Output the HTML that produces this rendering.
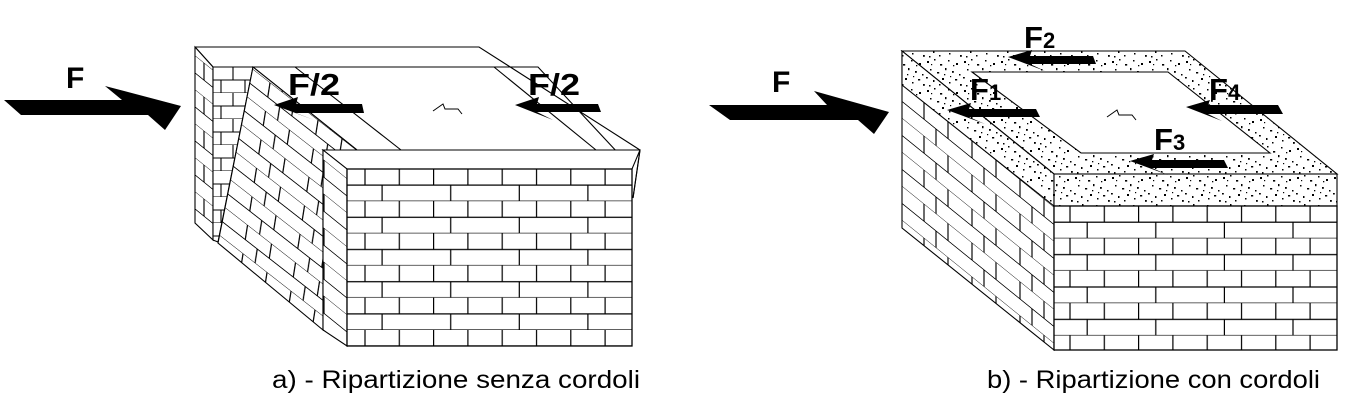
<!DOCTYPE html>
<html><head><meta charset="utf-8"><style>html,body{margin:0;padding:0;background:#fff}svg{display:block}</style></head>
<body>
<svg width="1357" height="407" viewBox="0 0 1357 407" xmlns="http://www.w3.org/2000/svg" font-family="Liberation Sans, sans-serif">
<defs>
<pattern id="frontL" x="347" y="169" width="68.6" height="32.2" patternUnits="userSpaceOnUse">
<rect width="68.6" height="32.2" fill="#fff"/>
<path d="M0 16.1H68.6M0 32.2H68.6M18 0V16.1M52.3 0V16.1M35.1 16.1V32.2" stroke="#000" stroke-width="1.2" fill="none"/>
</pattern>
<pattern id="frontR" x="1053" y="206" width="68.6" height="32.4" patternUnits="userSpaceOnUse">
<rect width="68.6" height="32.4" fill="#fff"/>
<path d="M0 16.2H68.6M0 32.4H68.6M17 0V16.2M51.3 0V16.2M34.2 16.2V32.4" stroke="#000" stroke-width="1.2" fill="none"/>
</pattern>
<pattern id="skew" x="0" y="0" width="48" height="34" patternUnits="userSpaceOnUse" patternTransform="skewY(39)">
<rect width="48" height="34" fill="#fff"/>
<path d="M0 17H48M0 34H48M12 0V17M36 0V17M24 17V34" stroke="#000" stroke-width="1.1" fill="none"/>
</pattern>
<pattern id="skew2" x="0" y="0" width="48" height="32" patternUnits="userSpaceOnUse" patternTransform="skewY(38) skewX(-8)">
<rect width="48" height="32" fill="#fff"/>
<path d="M0 16H48M0 32H48M12 0V16M36 0V16M24 16V32" stroke="#000" stroke-width="1.1" fill="none"/>
</pattern>
<pattern id="horz" x="213" y="67" width="40" height="26" patternUnits="userSpaceOnUse">
<rect width="40" height="26" fill="#fff"/>
<path d="M0 13H40M0 26H40M20 0V13M8 13V26M32 13V26" stroke="#000" stroke-width="1.1" fill="none"/>
</pattern>
<pattern id="conc" x="0" y="0" width="37" height="29" patternUnits="userSpaceOnUse">
<rect width="37" height="29" fill="#fff"/>
<g fill="#000">
<rect x="2" y="3" width="2" height="2"/><rect x="9" y="1" width="1.5" height="1.5"/><rect x="15" y="6" width="2.2" height="1.6"/>
<rect x="23" y="2" width="1.5" height="1.5"/><rect x="31" y="5" width="2" height="2"/><rect x="5" y="11" width="1.5" height="1.5"/>
<rect x="12" y="14" width="2.2" height="1.5"/><rect x="20" y="10" width="1.5" height="2.2"/><rect x="27" y="13" width="1.8" height="1.8"/>
<rect x="34" y="16" width="1.5" height="1.5"/><rect x="1" y="19" width="1.8" height="1.5"/><rect x="8" y="22" width="1.5" height="2"/>
<rect x="17" y="20" width="2" height="2"/><rect x="24" y="24" width="1.5" height="1.5"/><rect x="30" y="21" width="2.2" height="1.5"/>
<rect x="4" y="27" width="1.5" height="1.5"/><rect x="14" y="26" width="1.5" height="1.5"/><rect x="35" y="26" width="1.8" height="1.8"/>
<rect x="19" y="16" width="1.3" height="1.3"/><rect x="28" y="7" width="1.3" height="1.3"/><rect x="6" y="6" width="1.2" height="1.2"/><rect x="25" y="18" width="1.2" height="1.2"/>
</g>
</pattern>
</defs>

<polygon points="4,100 122,100 105,86 181,106 165,130 148,115 21,115" fill="#000"/>
<text x="66" y="88" font-size="30" font-weight="bold">F</text>

<g fill="none" stroke="#000" stroke-width="1.1">
<polyline points="195,47 479,47 640,150 633,198"/>
<polyline points="213,67 538,67 632,168"/>
<line x1="195" y1="47" x2="213" y2="67"/>
<line x1="494" y1="67" x2="596" y2="150"/>
<line x1="253" y1="67" x2="357" y2="150"/>
<line x1="295" y1="67" x2="401" y2="150"/>
</g>
<polygon points="195,47 213,67 213,240 195,223" fill="url(#skew)" stroke="#000" stroke-width="1.1"/>
<polygon points="213,67 253,67 218,242 213,240" fill="url(#horz)" stroke="#000" stroke-width="1.1"/>
<polygon points="253,67 357,150 323,150 323,330 218,243" fill="url(#skew2)" stroke="#000" stroke-width="1.1"/>
<polygon points="323,150 640,150 632,169 347,169" fill="#fff" stroke="#000" stroke-width="1.1"/>
<polygon points="323,150 347,169 347,346 323,330" fill="url(#skew)" stroke="#000" stroke-width="1.1"/>
<rect x="347" y="169" width="285" height="177" fill="url(#frontL)" stroke="#000" stroke-width="1.3"/>
<line x1="640" y1="150" x2="633" y2="198" stroke="#000" stroke-width="1.1"/>

<text x="288" y="95" font-size="31" font-weight="bold" textLength="52" lengthAdjust="spacingAndGlyphs">F/2</text>
<text x="528" y="95" font-size="31" font-weight="bold" textLength="52" lengthAdjust="spacingAndGlyphs">F/2</text>
<polygon points="274,105 298,97 296,104 362,104 364,113 296,113 314,120" fill="#000"/>
<polygon points="515,105 539,97 537,104 598,104 601,112 537,112 553,120" fill="#000"/>
<path d="M433 111 L443 104 L445 109 L458 109 L462 114" fill="none" stroke="#000" stroke-width="1"/>

<text x="272" y="388" font-size="25" textLength="368" lengthAdjust="spacingAndGlyphs">a) - Ripartizione senza cordoli</text>

<polygon points="709,105 827,105 814,91 889,112 874,134 858,120 730,120" fill="#000"/>
<text x="772" y="92" font-size="30" font-weight="bold">F</text>

<path d="M902,51 L1185,51 L1337,174 L1054,174 Z M972,72 L1081,153 L1270,153 L1168,72 Z" fill="url(#conc)" fill-rule="evenodd" stroke="#000" stroke-width="1.1"/>
<polygon points="902,51 1054,174 1054,350 902,228" fill="url(#skew)" stroke="#000" stroke-width="1.1"/>
<polygon points="902,51 1054,174 1054,206 902,85" fill="url(#conc)" stroke="#000" stroke-width="1.1"/>
<rect x="1054" y="174" width="283" height="32" fill="url(#conc)" stroke="#000" stroke-width="1.1"/>
<rect x="1054" y="206" width="283" height="144" fill="url(#frontR)" stroke="#000" stroke-width="1.3"/>

<path d="M1107 117 L1117 110 L1119 115 L1132 115 L1136 120" fill="none" stroke="#000" stroke-width="1"/>

<text x="1024" y="48" font-size="31" font-weight="bold">F<tspan font-size="22">2</tspan></text>
<text x="970" y="100" font-size="31" font-weight="bold">F<tspan font-size="22">1</tspan></text>
<text x="1209" y="100" font-size="31" font-weight="bold">F<tspan font-size="22">4</tspan></text>
<text x="1154" y="150" font-size="31" font-weight="bold">F<tspan font-size="22">3</tspan></text>

<polygon points="1008,57 1032,50 1030,56 1093,56 1096,64 1030,64 1045,71" fill="#000"/>
<polygon points="947,110 971,103 969,109 1036,109 1040,117 969,117 985,124" fill="#000"/>
<polygon points="1186,107 1210,100 1208,105 1278,105 1283,114 1208,114 1222,121" fill="#000"/>
<polygon points="1130,161 1154,154 1152,160 1224,160 1228,168 1152,168 1168,175" fill="#000"/>

<text x="987" y="388" font-size="25" textLength="333" lengthAdjust="spacingAndGlyphs">b) - Ripartizione con cordoli</text>
</svg>
</body></html>
